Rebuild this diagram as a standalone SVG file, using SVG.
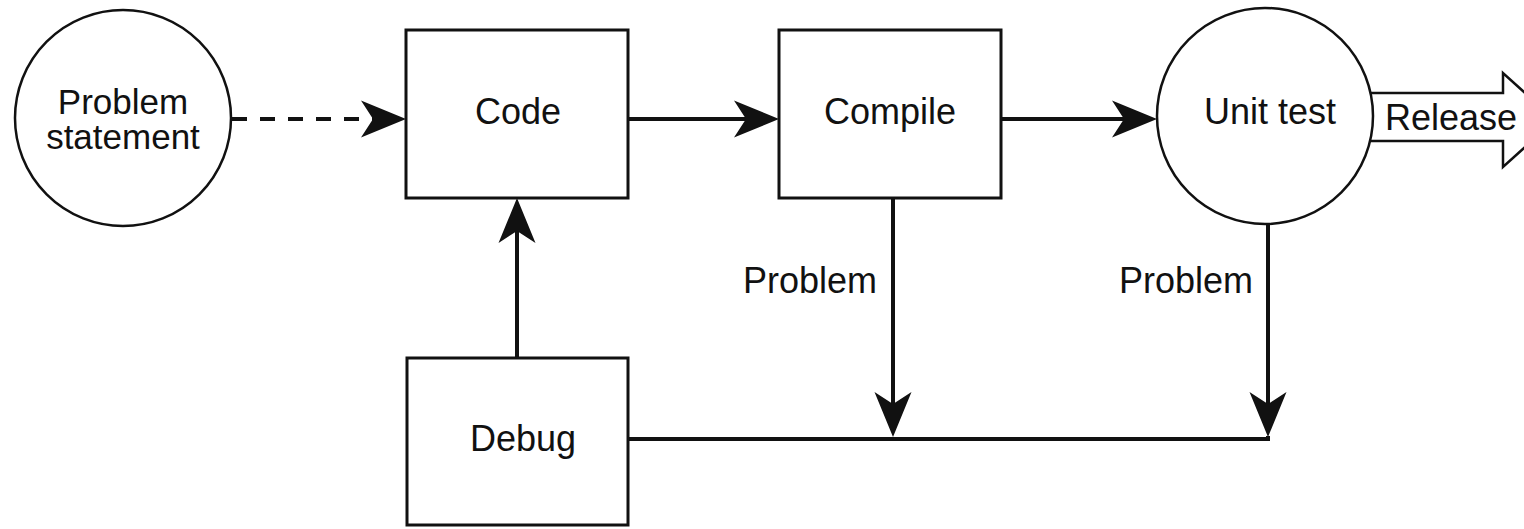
<svg xmlns="http://www.w3.org/2000/svg" width="1524" height="529" viewBox="0 0 1524 529">
  <style>
    .box { fill: #fff; stroke: #111; stroke-width: 3; }
    .circ { fill: #fff; stroke: #111; stroke-width: 2.5; }
    .lbl { font-family: "Liberation Sans", Arial, Helvetica, sans-serif; font-size: 36px; fill: #111; }
    .tight { font-size: 35px; }
    .mid { text-anchor: middle; }
    .end { text-anchor: end; }
    .edge { fill: none; stroke: #111; stroke-width: 4; }
    .dash { stroke-dasharray: 15 13; }
    .flow { fill: #fff; stroke: #111; stroke-width: 2.5; stroke-linejoin: miter; }
  </style>
  <defs>
    <!-- notched arrowhead; the line ends at the notch, the tip sits 33px beyond -->
    <marker id="head" markerUnits="userSpaceOnUse" viewBox="-12 -19 46 38" markerWidth="46" markerHeight="38" refX="0" refY="0" orient="auto">
      <path d="M33,0 L-12,-18.5 L0,0 L-12,18.5 Z" fill="#111"/>
    </marker>
  </defs>

  <rect width="1524" height="529" fill="#fff"/>

  <!-- connectors -->
  <g id="connectors">
    <line class="edge dash" x1="232" y1="119" x2="373" y2="119" marker-end="url(#head)"/>
    <line class="edge" x1="628" y1="119" x2="746" y2="119" marker-end="url(#head)"/>
    <line class="edge" x1="1001" y1="119" x2="1124" y2="119" marker-end="url(#head)"/>
    <line class="edge" x1="517" y1="358" x2="517" y2="231" marker-end="url(#head)"/>
    <line class="edge" x1="893" y1="198" x2="893" y2="404" marker-end="url(#head)"/>
    <line class="edge" x1="1268" y1="224" x2="1268" y2="404" marker-end="url(#head)"/>
    <polyline class="edge" points="628,439 1268,439 1268,436"/>
    <!-- hollow release arrow leaving the unit test -->
    <g id="release">
      <polygon class="flow" points="1366,93 1503,93 1503,73 1555,120 1503,167 1503,141 1366,141"/>
      <text class="lbl" x="1385" y="130">Release</text>
    </g>
  </g>

  <g id="problem-statement">
    <circle class="circ" cx="123" cy="118" r="108"/>
    <text class="lbl tight mid" x="123" y="114">Problem</text>
    <text class="lbl tight mid" x="123" y="149">statement</text>
  </g>

  <g id="code">
    <rect class="box" x="406" y="30" width="222" height="168"/>
    <text class="lbl mid" x="518" y="124">Code</text>
  </g>

  <g id="compile">
    <rect class="box" x="779" y="30" width="222" height="168"/>
    <text class="lbl mid" x="890" y="124">Compile</text>
  </g>

  <g id="unit-test">
    <circle class="circ" cx="1265" cy="116" r="108"/>
    <text class="lbl mid" x="1270" y="124">Unit test</text>
  </g>

  <g id="debug">
    <rect class="box" x="407" y="358" width="221" height="167"/>
    <text class="lbl mid" x="523" y="451">Debug</text>
  </g>

  <g id="edge-labels">
    <text class="lbl end" x="877" y="293">Problem</text>
    <text class="lbl end" x="1253" y="293">Problem</text>
  </g>
</svg>
